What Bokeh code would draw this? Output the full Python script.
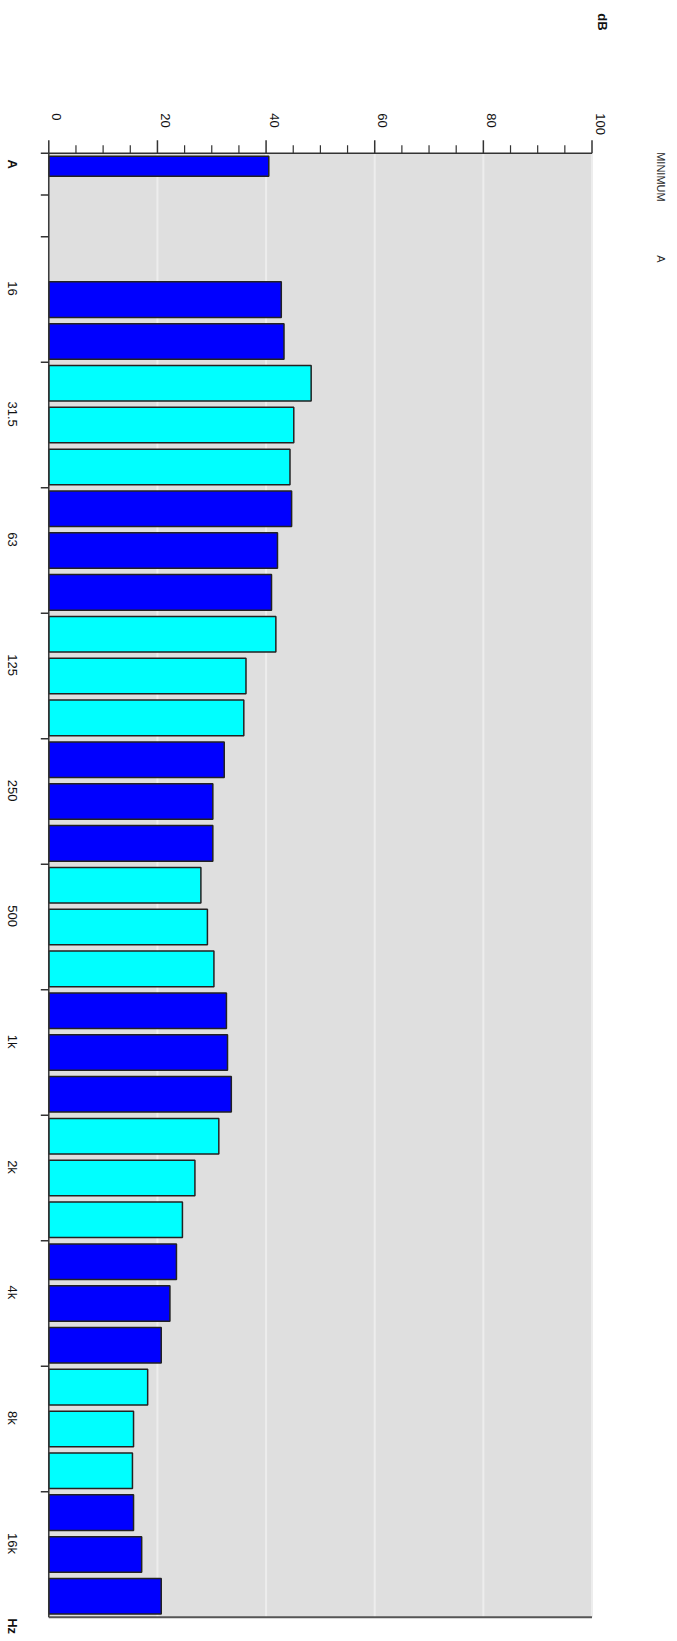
import math

from bokeh.core.properties import value
from bokeh.embed import file_html
from bokeh.models import ColumnDataSource, Range1d
from bokeh.plotting import figure
from bokeh.resources import INLINE

# Third-octave band centre frequencies (Hz) and measured minimum levels (dB)
bands = ["12.5", "16", "20", "25", "31.5", "40", "50", "63", "80",
         "100", "125", "160", "200", "250", "315", "400", "500", "630",
         "800", "1k", "1.25k", "1.6k", "2k", "2.5k", "3.15k", "4k", "5k",
         "6.3k", "8k", "10k", "12.5k", "16k", "20k"]
levels = [None, 42.8, 43.3, 48.3, 45.1, 44.4, 44.7, 42.1, 41.0,
          41.8, 36.3, 35.9, 32.3, 30.2, 30.2, 28.0, 29.2, 30.4,
          32.7, 32.9, 33.6, 31.3, 26.9, 24.6, 23.5, 22.3, 20.7,
          18.2, 15.6, 15.4, 15.6, 17.1, 20.7]

# Overall A-weighted level
weighting_label = "A"
weighting_level = 40.5

# Octave labels, one per group of three bands
octave_labels = ["16", "31.5", "63", "125", "250", "500", "1k", "2k", "4k", "8k", "16k"]

value_ticks = [0, 20, 40, 60, 80, 100]
value_tick_labels = ["0", "20", "40", "60", "80", "100"]
value_minor_step = 5

series_name = "MINIMUM"
value_unit = "dB"
freq_unit = "Hz"

# ---- layout / style -------------------------------------------------------
W, H = 677, 1641
PLOT_LEFT_PX, PLOT_RIGHT_PX = 48.3, 591.5
PLOT_TOP_PX, PLOT_BOTTOM_PX = 152.7, 1616.7

BLUE = "#0000FF"
CYAN = "#00FFFF"
AXIS_COLOR = "#333333"
FONT = "Liberation Sans"
LABEL_SIZE = "13px"
CAPTION_SIZE = "11px"
TEXT_COLOR = "#111111"

FIRST_BAND_ROW = 2                      # row 0: overall level, row 1: spacer
N_ROWS = FIRST_BAND_ROW + len(bands)
BAR_H = 0.85
A_BAR_CENTER = 0.314
A_BAR_H = 0.48
ROT = -math.pi / 2                      # text reads top-to-bottom

V_MIN, V_MAX = value_ticks[0], value_ticks[-1]
X_PX = (PLOT_RIGHT_PX - PLOT_LEFT_PX) / (V_MAX - V_MIN)   # px per dB
Y_PX = (PLOT_BOTTOM_PX - PLOT_TOP_PX) / N_ROWS            # px per row


def dx(px):
    return px / X_PX


def dy(px):
    return px / Y_PX


# The drawing area covers the whole canvas; the chart frame sits inside it.
x_range = Range1d(V_MIN - dx(PLOT_LEFT_PX), V_MIN + dx(W - PLOT_LEFT_PX))
y_range = Range1d(dy(H - PLOT_TOP_PX), -dy(PLOT_TOP_PX))

p = figure(width=W, height=H, output_backend="svg", toolbar_location=None,
           x_range=x_range, y_range=y_range,
           x_axis_location=None, y_axis_location=None, min_border=0)
p.outline_line_color = None
p.background_fill_color = "white"
p.border_fill_color = "white"
for g in p.grid:
    g.visible = False

# plot area
p.quad(left=[V_MIN], right=[V_MAX], top=[0], bottom=[N_ROWS],
       fill_color="#DFDFDF", line_color=None)

# vertical grid lines
p.segment(x0=value_ticks, y0=[0] * len(value_ticks), x1=value_ticks,
          y1=[N_ROWS] * len(value_ticks), line_color="#EDEDED", line_width=2)

# bars
ys, rights, heights, colors = [], [], [], []
ys.append(A_BAR_CENTER)
rights.append(weighting_level)
heights.append(A_BAR_H)
colors.append(BLUE)
for i, lv in enumerate(levels):
    if lv is None:
        continue
    ys.append(FIRST_BAND_ROW + i + 0.5)
    rights.append(lv)
    heights.append(BAR_H)
    colors.append(BLUE if (i // 3) % 2 == 0 else CYAN)

src = ColumnDataSource(dict(y=ys, right=rights, height=heights, color=colors))
p.hbar(y="y", left=V_MIN, right="right", height="height", source=src,
       fill_color="color", line_color="#222222", line_width=1.5)

# value axis along the top
minor = [v for v in range(V_MIN, V_MAX + 1, value_minor_step) if v not in value_ticks]
p.segment(x0=[V_MIN], y0=[0], x1=[V_MAX], y1=[0], line_color=AXIS_COLOR, line_width=1.5)
p.segment(x0=value_ticks, y0=[0] * len(value_ticks), x1=value_ticks,
          y1=[-dy(13)] * len(value_ticks), line_color=AXIS_COLOR, line_width=1.5)
p.segment(x0=minor, y0=[0] * len(minor), x1=minor, y1=[-dy(8)] * len(minor),
          line_color=AXIS_COLOR, line_width=1.2)

# frequency axis along the left, ticks at octave-group boundaries
row_ticks = [0, 1] + list(range(FIRST_BAND_ROW, N_ROWS - 1, 3))
p.segment(x0=[V_MIN], y0=[0], x1=[V_MIN], y1=[N_ROWS], line_color=AXIS_COLOR, line_width=1.5)
p.segment(x0=[V_MIN - dx(8)] * len(row_ticks), y0=row_ticks,
          x1=[V_MIN] * len(row_ticks), y1=row_ticks, line_color=AXIS_COLOR, line_width=1.5)

# closing line at the bottom of the plot area
p.segment(x0=[V_MIN], y0=[N_ROWS], x1=[V_MAX], y1=[N_ROWS], line_color="#555555", line_width=2)


def rotated_text(texts, xs, ys_, align="left", size=LABEL_SIZE, bold=False, color=TEXT_COLOR):
    p.text(x=xs, y=ys_, text=texts, angle=ROT,
           text_align=align, text_baseline="alphabetic",
           text_font=value(FONT), text_font_size=value(size),
           text_font_style="bold" if bold else "normal",
           text_color=color)


# value tick labels
rotated_text(value_tick_labels, [v + dx(8) for v in value_ticks],
             [-dy(40)] * len(value_ticks))

# frequency labels
label_x = V_MIN - dx(36)
rotated_text([weighting_label], [label_x], [0.5 - dy(10)], align="center", bold=True)
rotated_text(octave_labels, [label_x] * len(octave_labels),
             [FIRST_BAND_ROW + 3 * g + 1.5 - dy(11) for g in range(len(octave_labels))],
             align="center")

# units
rotated_text([freq_unit], [label_x], [N_ROWS + dy(1)], bold=True)
rotated_text([value_unit], [V_MAX + dx(10)], [-dy(140)], bold=True)

# series caption
rotated_text([series_name], [V_MAX + dx(69)], [-dy(1)], size=CAPTION_SIZE, color="#2a2a2a")
rotated_text([weighting_label], [V_MAX + dx(69)], [dy(102)], size=CAPTION_SIZE, color="#2a2a2a")

open("out.html", "w").write(file_html(p, INLINE))
